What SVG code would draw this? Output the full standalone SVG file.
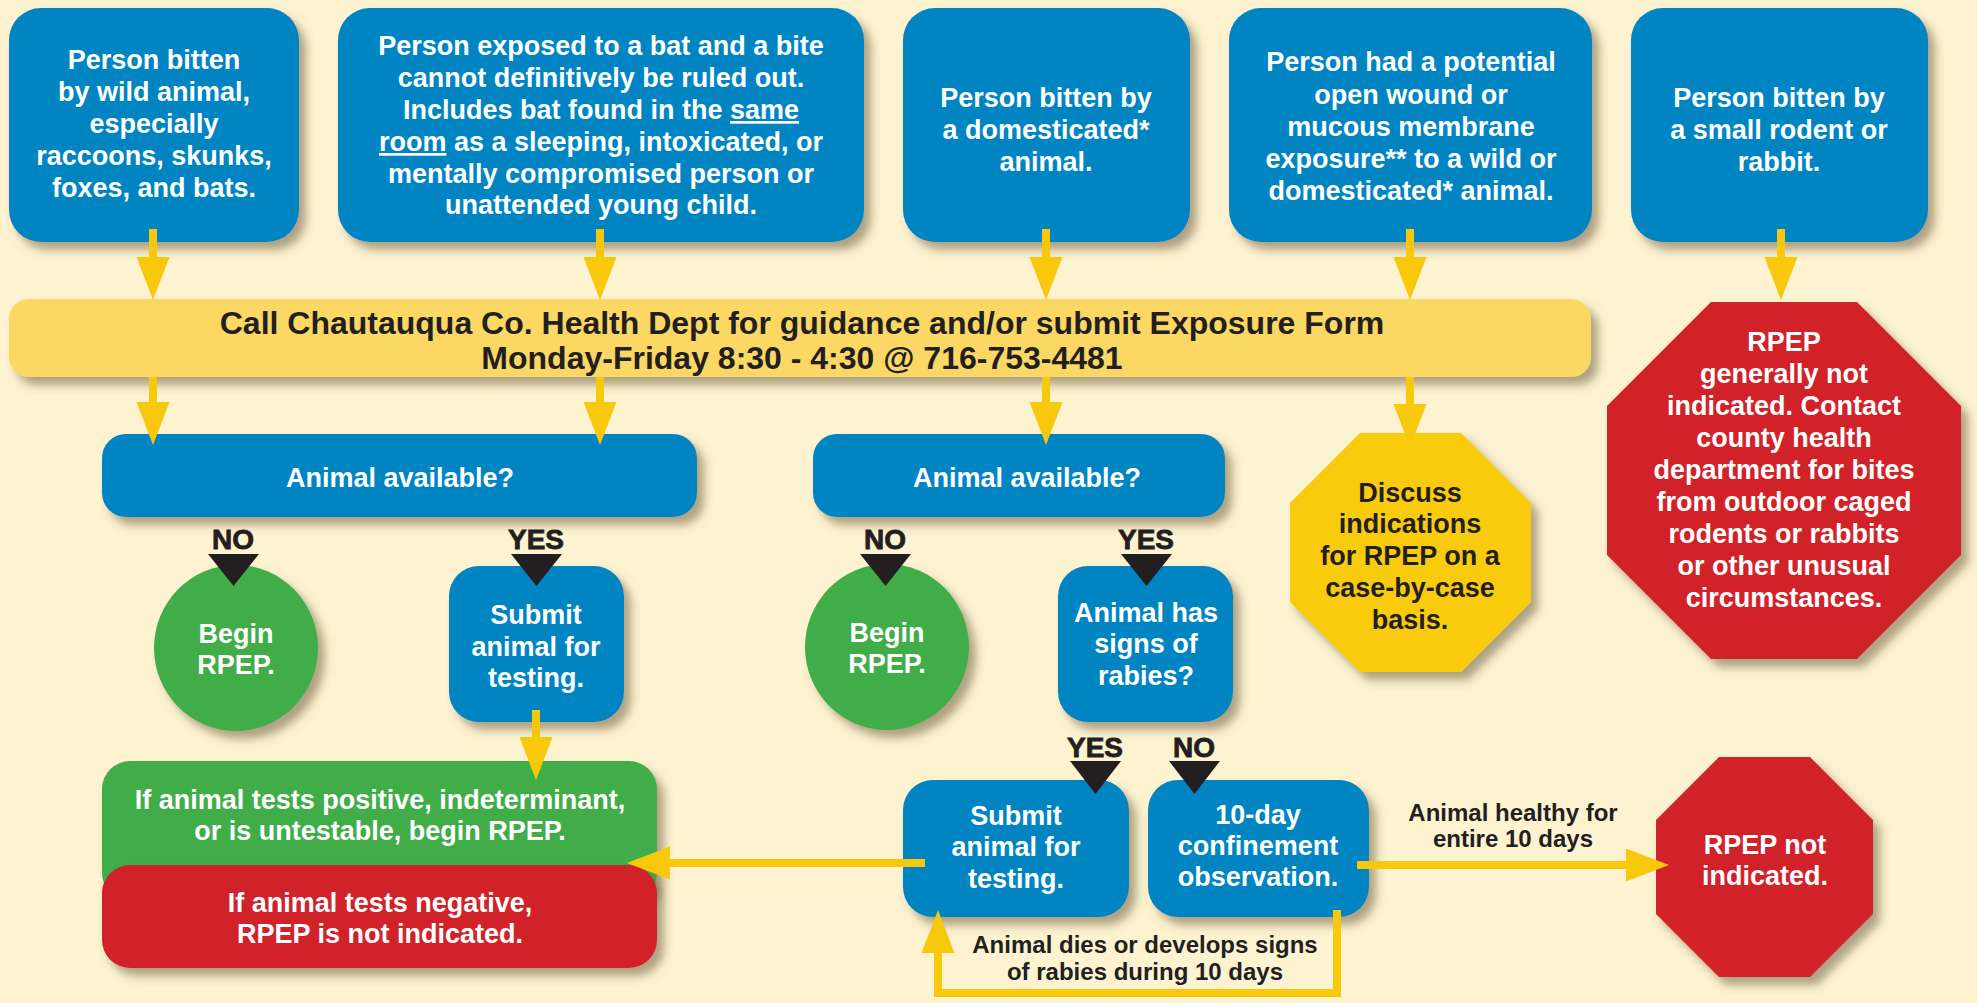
<svg xmlns="http://www.w3.org/2000/svg" width="1977" height="1003" viewBox="0 0 1977 1003">
<defs>
<filter id="sh" x="-15%" y="-15%" width="135%" height="140%">
<feDropShadow dx="7" dy="8" stdDeviation="5" flood-color="#5e4e30" flood-opacity="0.5"/>
</filter>
<marker id="ah" markerUnits="userSpaceOnUse" markerWidth="44" markerHeight="34" refX="1" refY="16.5" orient="auto">
<path d="M0,0 L43,16.5 L0,33 Z" fill="#f8c80d"/>
</marker>
<style>
.bg{fill:#fdf3d1}
.blue{fill:#0285c2;filter:url(#sh)}
.green{fill:#40ad4a;filter:url(#sh)}
.red{fill:#d1232a;filter:url(#sh)}
.ybar{fill:#fad864;filter:url(#sh)}
.yoct{fill:#f8cc10;filter:url(#sh)}
text{font-family:"Liberation Sans",Arial,sans-serif;font-weight:bold;text-anchor:middle}
.w{fill:#ffffff;font-size:27px}
.d{fill:#231f20;font-size:27px}
.bar{fill:#231f20;font-size:32px}
.lbl{fill:#231f20;font-size:24px}
.yn{fill:#231f20;font-size:28px;stroke:#231f20;stroke-width:0.8}
.u{text-decoration:underline}
.stem{fill:none;stroke:#f8c80d;stroke-width:8}
.tri{fill:#231f20}
</style>
</defs>
<rect class="bg" x="0" y="0" width="1977" height="1003"/>

<g id="box-wild">
<rect class="blue" x="9" y="8" width="290" height="234" rx="32"/>
<text class="w" x="154"><tspan x="154" y="69">Person bitten</tspan><tspan x="154" y="101">by wild animal,</tspan><tspan x="154" y="133">especially</tspan><tspan x="154" y="165">raccoons, skunks,</tspan><tspan x="154" y="197">foxes, and bats.</tspan></text>
</g>
<g id="box-bat">
<rect class="blue" x="338" y="8" width="526" height="234" rx="32"/>
<text class="w"><tspan x="601" y="55">Person exposed to a bat and a bite</tspan><tspan x="601" y="87">cannot definitively be ruled out.</tspan><tspan x="601" y="119">Includes bat found in the <tspan class="u">same</tspan></tspan><tspan x="601" y="151"><tspan class="u">room</tspan> as a sleeping, intoxicated, or</tspan><tspan x="601" y="183">mentally compromised person or</tspan><tspan x="601" y="214">unattended young child.</tspan></text>
</g>
<g id="box-domestic">
<rect class="blue" x="903" y="8" width="287" height="234" rx="32"/>
<text class="w"><tspan x="1046" y="107">Person bitten by</tspan><tspan x="1046" y="139">a domesticated*</tspan><tspan x="1046" y="171">animal.</tspan></text>
</g>
<g id="box-wound">
<rect class="blue" x="1229" y="8" width="363" height="234" rx="32"/>
<text class="w"><tspan x="1411" y="71">Person had a potential</tspan><tspan x="1411" y="104">open wound or</tspan><tspan x="1411" y="136">mucous membrane</tspan><tspan x="1411" y="168">exposure** to a wild or</tspan><tspan x="1411" y="200">domesticated* animal.</tspan></text>
</g>
<g id="box-rodent">
<rect class="blue" x="1631" y="8" width="297" height="234" rx="32"/>
<text class="w"><tspan x="1779" y="107">Person bitten by</tspan><tspan x="1779" y="139">a small rodent or</tspan><tspan x="1779" y="171">rabbit.</tspan></text>
</g>

<g id="call-bar">
<rect class="ybar" x="9" y="299" width="1582" height="78" rx="20"/>
<text class="bar"><tspan x="802" y="334">Call Chautauqua Co. Health Dept for guidance and/or submit Exposure Form</tspan><tspan x="802" y="369">Monday-Friday 8:30 - 4:30 @ 716-753-4481</tspan></text>
</g>

<g id="avail-1">
<rect class="blue" x="102" y="434" width="595" height="83" rx="24"/>
<text class="w" x="400" y="487">Animal available?</text>
</g>
<g id="avail-2">
<rect class="blue" x="813" y="434" width="412" height="83" rx="24"/>
<text class="w" x="1027" y="487">Animal available?</text>
</g>
<g id="discuss">
<polygon class="yoct" points="1360,433 1461,433 1531,503 1531,602 1461,672 1360,672 1290,602 1290,503"/>
<text class="d"><tspan x="1410" y="502">Discuss</tspan><tspan x="1410" y="533">indications</tspan><tspan x="1410" y="565">for RPEP on a</tspan><tspan x="1410" y="597">case-by-case</tspan><tspan x="1410" y="629">basis.</tspan></text>
</g>
<g id="rpep-generally-not">
<polygon class="red" points="1711,302 1857,302 1961,406 1961,555 1857,659 1711,659 1607,555 1607,406"/>
<text class="w"><tspan x="1784" y="351">RPEP</tspan><tspan x="1784" y="383">generally not</tspan><tspan x="1784" y="415">indicated. Contact</tspan><tspan x="1784" y="447">county health</tspan><tspan x="1784" y="479">department for bites</tspan><tspan x="1784" y="511">from outdoor caged</tspan><tspan x="1784" y="543">rodents or rabbits</tspan><tspan x="1784" y="575">or other unusual</tspan><tspan x="1784" y="607">circumstances.</tspan></text>
</g>

<g id="begin-1">
<ellipse class="green" cx="236" cy="648" rx="82" ry="83"/>
<text class="w"><tspan x="236" y="643">Begin</tspan><tspan x="236" y="674">RPEP.</tspan></text>
</g>
<g id="submit-1">
<rect class="blue" x="449" y="566" width="175" height="156" rx="30"/>
<text class="w"><tspan x="536" y="624">Submit</tspan><tspan x="536" y="656">animal for</tspan><tspan x="536" y="687">testing.</tspan></text>
</g>
<g id="begin-2">
<ellipse class="green" cx="887" cy="647" rx="82" ry="83"/>
<text class="w"><tspan x="887" y="642">Begin</tspan><tspan x="887" y="673">RPEP.</tspan></text>
</g>
<g id="signs">
<rect class="blue" x="1058" y="566" width="175" height="156" rx="30"/>
<text class="w"><tspan x="1146" y="622">Animal has</tspan><tspan x="1146" y="653">signs of</tspan><tspan x="1146" y="685">rabies?</tspan></text>
</g>

<g id="result-positive">
<rect class="green" x="102" y="761" width="555" height="140" rx="28"/>
<text class="w"><tspan x="380" y="809">If animal tests positive, indeterminant,</tspan><tspan x="380" y="840">or is untestable, begin RPEP.</tspan></text>
</g>
<g id="result-negative">
<rect class="red" x="102" y="865" width="555" height="103" rx="28"/>
<text class="w"><tspan x="380" y="912">If animal tests negative,</tspan><tspan x="380" y="943">RPEP is not indicated.</tspan></text>
</g>
<g id="submit-2">
<rect class="blue" x="903" y="780" width="226" height="137" rx="30"/>
<text class="w"><tspan x="1016" y="825">Submit</tspan><tspan x="1016" y="856">animal for</tspan><tspan x="1016" y="888">testing.</tspan></text>
</g>
<g id="confinement">
<rect class="blue" x="1148" y="780" width="221" height="137" rx="30"/>
<text class="w"><tspan x="1258" y="824">10-day</tspan><tspan x="1258" y="855">confinement</tspan><tspan x="1258" y="886">observation.</tspan></text>
</g>
<g id="rpep-not">
<polygon class="red" points="1719,757 1810,757 1873,820 1873,914 1810,977 1719,977 1656,914 1656,820"/>
<text class="w"><tspan x="1765" y="854">RPEP not</tspan><tspan x="1765" y="885">indicated.</tspan></text>
</g>

<g id="connectors">
<path class="stem" d="M153,229 V258" marker-end="url(#ah)"/>
<path class="stem" d="M600,229 V258" marker-end="url(#ah)"/>
<path class="stem" d="M1046,229 V258" marker-end="url(#ah)"/>
<path class="stem" d="M1410,229 V258" marker-end="url(#ah)"/>
<path class="stem" d="M1781,229 V258" marker-end="url(#ah)"/>
<path class="stem" d="M153,377 V403" marker-end="url(#ah)"/>
<path class="stem" d="M600,377 V403" marker-end="url(#ah)"/>
<path class="stem" d="M1046,377 V403" marker-end="url(#ah)"/>
<path class="stem" d="M1410,377 V405" marker-end="url(#ah)"/>
<path class="stem" d="M536,710 V738" marker-end="url(#ah)"/>
<path class="stem" d="M925,863 H669" marker-end="url(#ah)"/>
<path class="stem" d="M1357,865 H1627" marker-end="url(#ah)"/>
<path class="stem" d="M1337,910 V993 H938 V952" marker-end="url(#ah)"/>
<text class="yn" x="233" y="549">NO</text>
<polygon class="tri" points="208,554 259,554 233.5,586"/>
<text class="yn" x="536" y="549">YES</text>
<polygon class="tri" points="511,554 562,554 536.5,586"/>
<text class="yn" x="885" y="549">NO</text>
<polygon class="tri" points="860,554 911,554 885.5,586"/>
<text class="yn" x="1146" y="549">YES</text>
<polygon class="tri" points="1121,554 1172,554 1146.5,586"/>
<text class="yn" x="1095" y="757">YES</text>
<polygon class="tri" points="1070,761 1121,761 1095.5,794"/>
<text class="yn" x="1194" y="757">NO</text>
<polygon class="tri" points="1169,761 1220,761 1194.5,794"/>
<text class="lbl"><tspan x="1513" y="821">Animal healthy for</tspan><tspan x="1513" y="847">entire 10 days</tspan></text>
<text class="lbl"><tspan x="1145" y="953">Animal dies or develops signs</tspan><tspan x="1145" y="980">of rabies during 10 days</tspan></text>
</g>
</svg>
